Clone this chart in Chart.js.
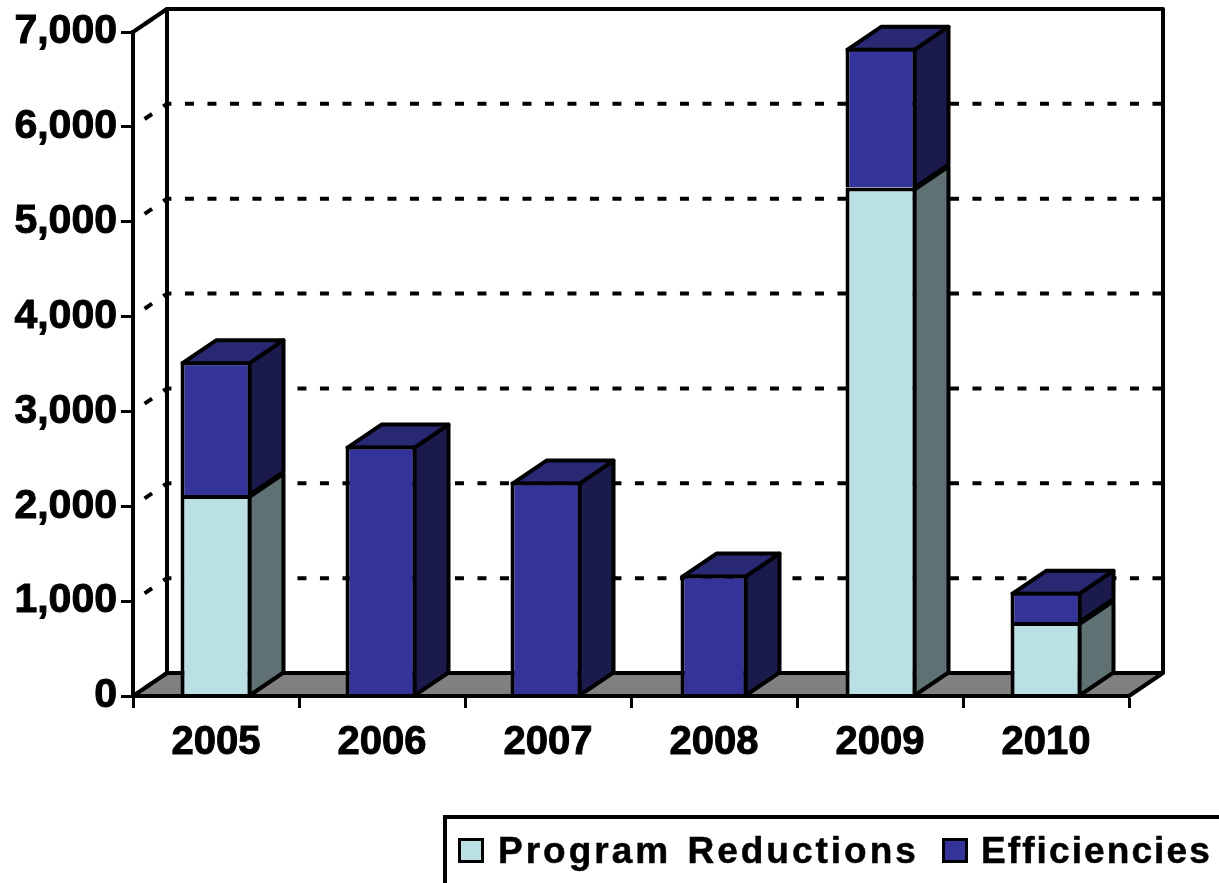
<!DOCTYPE html>
<html>
<head>
<meta charset="utf-8">
<title>Program Reductions and Efficiencies</title>
<script src="https://cdn.jsdelivr.net/npm/chart.js@4/dist/chart.umd.min.js"></script>
<style>
  html, body { margin: 0; background: #fff; overflow: hidden; }
  #wrap { position: relative; width: 1219px; height: 883px; }
  #legend {
    position: absolute; left: 443px; top: 815px; width: 776px; height: 68px;
    box-sizing: border-box; border-left: 4px solid #000; border-top: 4px solid #000;
    font: bold 37px "Liberation Sans", Arial, sans-serif; color: #000;
    -webkit-text-stroke: 0.5px #000;
  }
  .item { position: absolute; top: 11px; white-space: nowrap; line-height: 42px; }
  .swatch { position: absolute; top: 19px; width: 20px; height: 19px; border: 3px solid #000; }
</style>
</head>
<body>
<div id="wrap">
  <canvas id="chart" width="1219" height="883"></canvas>
  <div id="legend"></div>
</div>
<script>
const years = ["2005", "2006", "2007", "2008", "2009", "2010"];
const programReductions = [2120, null, null, null, 5360, 780];
const efficiencies = [1410, 2640, 2260, 1280, 1475, 320];
const yTicks = [0, 1000, 2000, 3000, 4000, 5000, 6000, 7000];

const DEPTH_X = 34;
const DEPTH_Y = 23;
const LINE = 4;
const BAR_WIDTH = 71;
const FONT = '"Liberation Sans", Arial, sans-serif';

const sideColors = { "Program Reductions": "#5f7173", "Efficiencies": "#1a1a4d" };
const topColor = "#282873";

// the source chart's bars are not quite evenly placed
const barShift = [0, -1, -2, 0, 1, 0];
const barNarrow = [0, 0, 0, 4, 0, 0];

// legend layout: swatch left, text left, letter spacing, word spacing
const legendLayout = [
  { swatch: 11, text: 51, spacing: 3, words: 3 },
  { swatch: 495, text: 534, spacing: 2.1, words: 0 },
];

function poly(ctx, points, fill) {
  ctx.beginPath();
  points.forEach((p, i) => (i ? ctx.lineTo(p[0], p[1]) : ctx.moveTo(p[0], p[1])));
  ctx.closePath();
  if (fill) {
    ctx.fillStyle = fill;
    ctx.fill();
  }
  ctx.stroke();
}

const box3d = {
  id: "box3d",
  afterDatasetsUpdate(chart) {
    chart.data.datasets.forEach((ds, di) => {
      chart.getDatasetMeta(di).data.forEach((bar, i) => {
        bar.x += barShift[i];
        bar.width -= barNarrow[i];
      });
    });
  },
  beforeDatasetsDraw(chart) {
    const { ctx, chartArea: area, scales } = chart;
    const bottom = area.bottom;
    const top = area.top;
    ctx.save();
    ctx.strokeStyle = "#000";
    ctx.lineJoin = "round";
    ctx.lineWidth = 4;

    // floor and the two walls behind the bars
    poly(ctx, [
      [area.left, bottom],
      [area.left + DEPTH_X, bottom - DEPTH_Y],
      [area.right + DEPTH_X, bottom - DEPTH_Y],
      [area.right, bottom],
    ], "#808080");
    ctx.beginPath();
    ctx.moveTo(area.left + DEPTH_X, bottom - DEPTH_Y);
    ctx.lineTo(area.left + DEPTH_X, top - DEPTH_Y);
    ctx.lineTo(area.right + DEPTH_X, top - DEPTH_Y);
    ctx.lineTo(area.right + DEPTH_X, bottom - DEPTH_Y);
    ctx.moveTo(area.left, top);
    ctx.lineTo(area.left + DEPTH_X, top - DEPTH_Y);
    ctx.stroke();

    // dotted grid runs up the side wall, then across the back wall
    ctx.setLineDash([9, 13.5]);
    ctx.lineDashOffset = 8.5;
    yTicks.forEach((v) => {
      const y = scales.y.getPixelForValue(v);
      ctx.beginPath();
      ctx.moveTo(area.left, y);
      ctx.lineTo(area.left + DEPTH_X, y - DEPTH_Y);
      ctx.lineTo(area.right + DEPTH_X, y - DEPTH_Y);
      ctx.stroke();
    });
    ctx.setLineDash([]);

    // side and top faces of each bar; the front face is the bar element itself
    ctx.lineWidth = LINE;
    chart.data.datasets.forEach((ds, di) => {
      chart.getDatasetMeta(di).data.forEach((bar, i) => {
        if (ds.data[i] == null) return;
        const right = bar.x + bar.width / 2 - LINE / 2;
        const left = bar.x - bar.width / 2 + LINE / 2;
        const upper = bar.y + LINE / 2;
        poly(ctx, [
          [right, bar.base],
          [right + DEPTH_X, bar.base - DEPTH_Y],
          [right + DEPTH_X, upper - DEPTH_Y],
          [right, upper],
        ], sideColors[ds.label]);
        if (di === chart.data.datasets.length - 1) {
          poly(ctx, [
            [left, upper],
            [left + DEPTH_X, upper - DEPTH_Y],
            [right + DEPTH_X, upper - DEPTH_Y],
            [right, upper],
          ], topColor);
        }
      });
    });
    ctx.restore();
  },
};

const chart = new Chart(document.getElementById("chart"), {
  type: "bar",
  data: {
    labels: years,
    datasets: [
      {
        label: "Program Reductions",
        data: programReductions,
        backgroundColor: "#bbe0e3",
        borderColor: "#000",
        borderWidth: LINE,
        inflateAmount: 0,
        barThickness: BAR_WIDTH,
      },
      {
        label: "Efficiencies",
        data: efficiencies,
        backgroundColor: "#333399",
        borderColor: "#000",
        borderWidth: LINE,
        inflateAmount: 0,
        barThickness: BAR_WIDTH,
      },
    ],
  },
  options: {
    responsive: false,
    animation: false,
    layout: { padding: { top: 32, right: 90, left: 0, bottom: 0 } },
    plugins: { legend: { display: false }, tooltip: { enabled: false } },
    scales: {
      x: {
        stacked: true,
        afterFit(scale) { scale.height = 187; },
        border: { color: "#000", width: 4, z: 1 },
        grid: { drawOnChartArea: false, color: "#000", tickLength: 12, tickWidth: 3 },
        ticks: {
          color: "#000",
          padding: 11,
          maxRotation: 0,
          textStrokeColor: "#000",
          textStrokeWidth: 1,
          font: { family: FONT, weight: "bold", size: 40 },
        },
      },
      y: {
        stacked: true,
        min: 0,
        max: 7000,
        afterFit(scale) { scale.width = 133; },
        border: { color: "#000", width: 4 },
        grid: { drawOnChartArea: false, color: "#000", tickLength: 12, tickWidth: 3 },
        ticks: {
          stepSize: 1000,
          color: "#000",
          padding: 4,
          textStrokeColor: "#000",
          textStrokeWidth: 1,
          font: { family: FONT, weight: "bold", size: 41 },
          callback: (v) => v.toLocaleString("en-US"),
        },
      },
    },
  },
  plugins: [box3d],
});

// legend sits in its own clipped box at the bottom right
const legendEl = document.getElementById("legend");
chart.data.datasets.forEach((ds, i) => {
  const pos = legendLayout[i];
  const swatch = document.createElement("span");
  swatch.className = "swatch";
  swatch.style.left = `${pos.swatch}px`;
  swatch.style.background = ds.backgroundColor;
  const item = document.createElement("span");
  item.className = "item";
  item.style.left = `${pos.text}px`;
  item.style.letterSpacing = `${pos.spacing}px`;
  item.style.wordSpacing = `${pos.words}px`;
  item.textContent = ds.label;
  legendEl.append(swatch, item);
});
</script>
</body>
</html>
